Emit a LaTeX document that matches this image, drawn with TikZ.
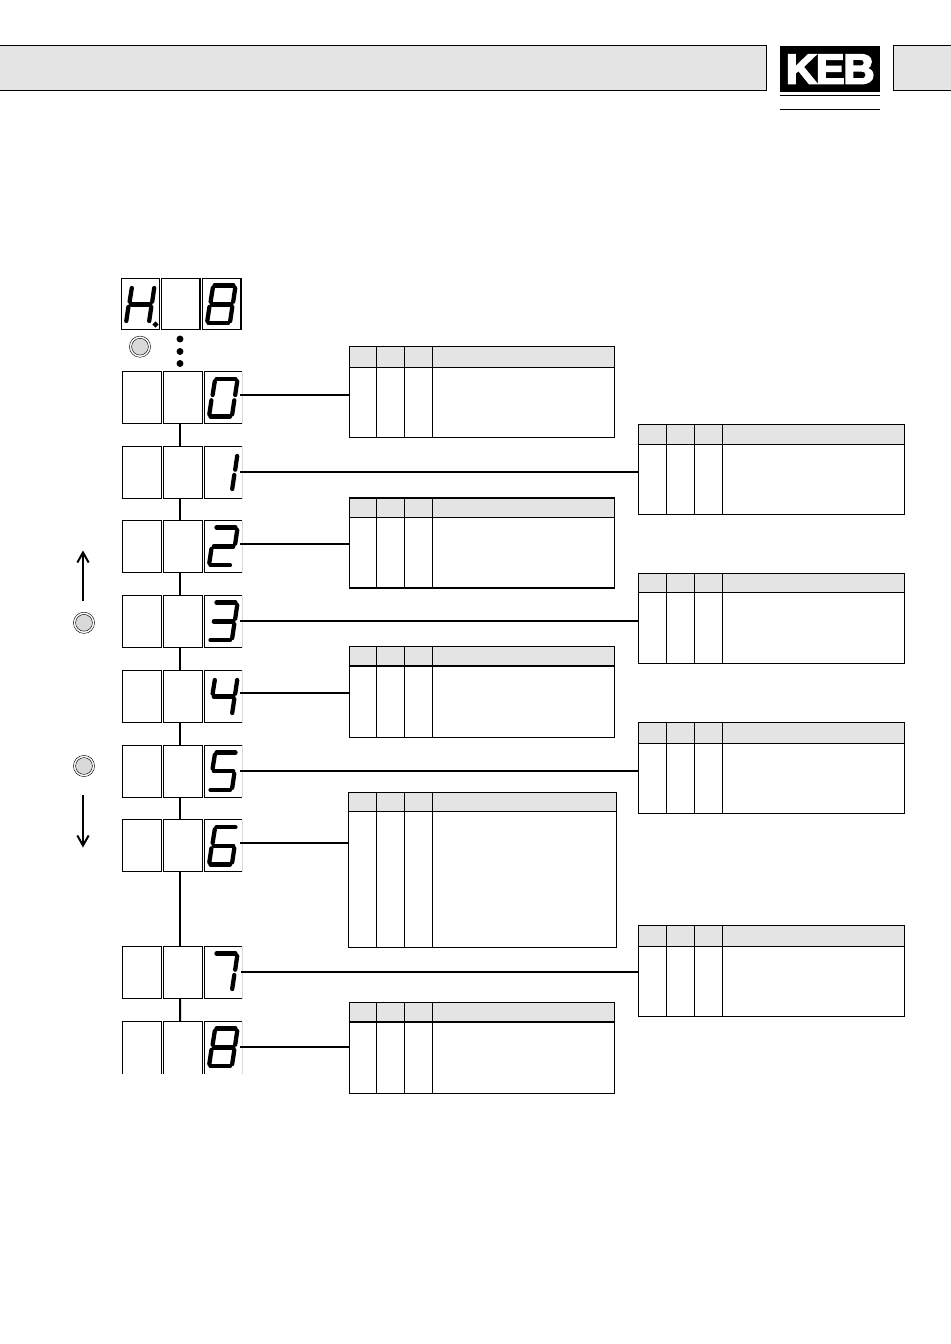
\documentclass[tikz,border=0pt]{standalone}
\usepackage{fontspec}
\setmainfont{Liberation Sans}
\newfontfamily\kebfont[FakeBold=4,LetterSpace=-3,FakeStretch=1.03]{Liberation Sans Bold}
\usetikzlibrary{arrows.meta,calc,shapes.geometric}
\definecolor{hdrgray}{HTML}{E4E4E4}
\definecolor{edgegray}{HTML}{D8D8D8}
\definecolor{btngray}{HTML}{D9D9D9}
\tikzset{
  cellbox/.style={rectangle,draw=black,line width=0.85pt,inner sep=0pt,outer sep=0pt,
    minimum width=29.6pt,minimum height=39pt,fill=white},
  nobox/.style={rectangle,inner sep=0pt,outer sep=0pt,minimum width=28.5pt,minimum height=39pt},
  tblline/.style={draw=black,line width=0.95pt},
  tblbox/.style={rectangle,draw=black,line width=0.95pt,inner sep=0pt,outer sep=0pt,anchor=north west},
  wire/.style={draw=black,line width=1.5pt},
  segm/.style={draw=black,line width=3.2pt,line cap=round},
  barbox/.style={draw=black,line width=0.7pt,fill=hdrgray},
  rulel/.style={draw=black,line width=0.8pt},
  updown/.style={draw=black,line width=1.5pt,-{Straight Barb[length=7.5pt,width=8.5pt]}},
}
\newcommand\sega{\draw[segm] (12.5,7.6)--(31.5,7.6);}
\newcommand\segb{\draw[segm] (33.2,10)--(31.2,23.7);}
\newcommand\segc{\draw[segm] (30.3,29)--(28.2,43);}
\newcommand\segd{\draw[segm] (6.5,45.3)--(26,45.3);}
\newcommand\sege{\draw[segm] (7.4,29)--(5.3,43);}
\newcommand\segf{\draw[segm] (10.8,10)--(8.6,23.7);}
\newcommand\segg{\draw[segm] (9.8,26.4)--(29.3,26.4);}
\newcommand\digit[3]{\begin{scope}[shift={(#1,#2)}]\foreach \s in {#3}{\csname seg\s\endcsname}\end{scope}}
% name, x0,x1,x2,x3,x4, top,hdr,bottom
\newcommand\tbl[9]{%
  \fill[hdrgray] (#2,#7) rectangle (#6,#8);
  \node[tblbox,minimum width={(#6-#2)*0.75pt},minimum height={(#9-#7)*0.75pt}] (#1) at (#2,#7) {};
  \draw[tblline] (#2,#8)--(#6,#8);
  \draw[tblline] (#3,#7)--(#3,#9);
  \draw[tblline] (#4,#7)--(#4,#9);
  \draw[tblline] (#5,#7)--(#5,#9);
}
% row: name, top y
\newcommand\rowcells[2]{%
  \node[cellbox] (#1a) at (142,#2+26) {};
  \node[cellbox] (#1b) at (183,#2+26) {};
  \node[nobox,anchor=north west] (#1c) at (204.3,#2) {};
  \draw[edgegray,line width=0.7pt] (#1c.north east)--(#1c.south east);
  \draw[black,line width=0.85pt] (#1c.north east)--(#1c.north west)--(#1c.south west)--(#1c.south east);
}
\newcommand\btn[3]{%
  \node[circle,draw=black,line width=0.35pt,minimum size=15.9pt,inner sep=0pt,outer sep=0pt] (#1) at (#2,#3) {};
  \node[circle,draw=black,fill=btngray,line width=0.35pt,minimum size=12.6pt,inner sep=0pt,outer sep=0pt] (#1i) at (#2,#3) {};
}
\newcommand\jump[2]{\draw[wire] ([xshift=-2.25pt]#1b.south)--([xshift=-2.25pt]#2b.north);}
\newcommand\link[3]{\coordinate (w#1) at (#2,#3); \draw[wire] (w#1)--(w#1 -| t#1.west);}
\begin{document}
\begin{tikzpicture}[x=0.75pt,y=-0.75pt]
\useasboundingbox (0,0) rectangle (950,1344);
\fill[white] (0,0) rectangle (950,1344);
% header
\path[barbox] (-2,45) rectangle (766.5,90.5);
\path[barbox] (893.5,45) rectangle (952,90.5);
\node[rectangle,fill=black,minimum width=75pt,minimum height=35pt,inner sep=0pt,anchor=north west] (logo) at (780,45.5) {};
\node[text=white,inner sep=0pt,font=\kebfont\fontsize{31.5}{32}\selectfont] (kebtext) at (logo.center) {KEB};
\draw[rulel] (780,95.5)--(880,95.5);
\draw[rulel] (780,109.5)--(880,109.5);
% top display
\node[cellbox,minimum width=28.6pt,minimum height=38.7pt] (ha) at (140.4,304) {};
\node[cellbox,minimum width=28.6pt,minimum height=38.7pt] (hb) at (180.9,304) {};
\node[cellbox,minimum width=28.6pt,minimum height=38.7pt] (hc) at (221.9,304) {};
\digit{121}{278}{b,c,e,f,g}
\digit{202}{278}{a,b,c,d,e,f,g}
\node[diamond,fill=black,inner sep=0pt,minimum size=5pt] (hdot) at (155.5,324.5) {};
\btn{bt}{140}{346.7}
\foreach \yy/\nn in {339/p,351.5/q,363.5/r}{\node[circle,fill=black,inner sep=0pt,minimum size=5.2pt] (\nn) at (180,\yy) {};}
% rows
\rowcells{r0}{371.8}
\rowcells{r1}{446.5}
\rowcells{r2}{520.5}
\rowcells{r3}{595.5}
\rowcells{r4}{670.5}
\rowcells{r5}{745.3}
\rowcells{r6}{819.8}
\rowcells{r7}{946.5}
% last row, open at the bottom
\node[nobox,anchor=north west,minimum width=29.6pt] (r8a) at (122.3,1021.5) {};
\node[nobox,anchor=north west,minimum width=29.6pt] (r8b) at (163.3,1021.5) {};
\node[nobox,anchor=north west] (r8c) at (204.3,1021.5) {};
\draw[black,line width=0.85pt] (r8a.south west)--(r8a.north west)--(r8a.north east)--(r8a.south east);
\draw[black,line width=0.85pt] (r8b.south west)--(r8b.north west)--(r8b.north east)--(r8b.south east);
\draw[edgegray,line width=0.7pt] (r8c.north east)--(r8c.south east);
\draw[black,line width=0.85pt] (r8c.north east)--(r8c.north west)--(r8c.south west);
% digits
\digit{204}{371.3}{a,b,c,d,e,f}
\digit{204}{446}{b,c}
\digit{204}{520}{a,b,g,e,d}
\digit{204}{595}{a,b,g,c,d}
\digit{204}{670}{f,g,b,c}
\digit{204}{744.8}{a,f,g,c,d}
\digit{204}{819.3}{a,f,g,c,d,e}
\digit{204}{946}{a,b,c}
\digit{204}{1021}{a,b,c,d,e,f,g}
% vertical links
\jump{r0}{r1}\jump{r1}{r2}\jump{r2}{r3}\jump{r3}{r4}\jump{r4}{r5}\jump{r5}{r6}\jump{r6}{r7}\jump{r7}{r8}
% tables
\tbl{t0}{349.3}{376.5}{404.5}{432.5}{614.5}{346.5}{367.5}{437.5}
\tbl{t2}{349.3}{376.5}{404.5}{432.5}{614.5}{498}{517.5}{588}
\tbl{t4}{349.3}{376.5}{404.5}{432.5}{614.5}{646.5}{666}{737.5}
\tbl{t6}{348.5}{376.5}{404.5}{432.5}{616.5}{792.5}{811.5}{947.5}
\tbl{t8}{349.3}{376.5}{404.5}{432.5}{614.5}{1002.5}{1022}{1093.5}
\tbl{t1}{638.5}{666.5}{694.5}{722.5}{904.5}{424.5}{444.5}{514.5}
\tbl{t3}{638.5}{666.5}{694.5}{722.5}{904.5}{573.5}{592.5}{663.5}
\tbl{t5}{638.5}{666.5}{694.5}{722.5}{904.5}{722.5}{743.5}{813.5}
\tbl{t7}{638.5}{666.5}{694.5}{722.5}{904.5}{925.5}{946.5}{1016.5}
% connectors
\link{0}{240}{395}
\link{1}{240}{471.7}
\link{2}{240}{544}
\link{3}{240}{620.8}
\link{4}{240}{692.8}
\link{5}{240}{771}
\link{6}{240}{842.8}
\link{7}{241}{971.7}
\link{8}{240}{1046.8}
% buttons and arrows
\btn{bu}{84}{622.8}
\btn{bd}{84}{766}
\coordinate (upa) at (83,600.5);
\coordinate (upb) at (83,550.5);
\coordinate (dna) at (83,795);
\coordinate (dnb) at (83,847.5);
\draw[updown] (upa)--(upb);
\draw[updown] (dna)--(dnb);
\end{tikzpicture}
\end{document}
